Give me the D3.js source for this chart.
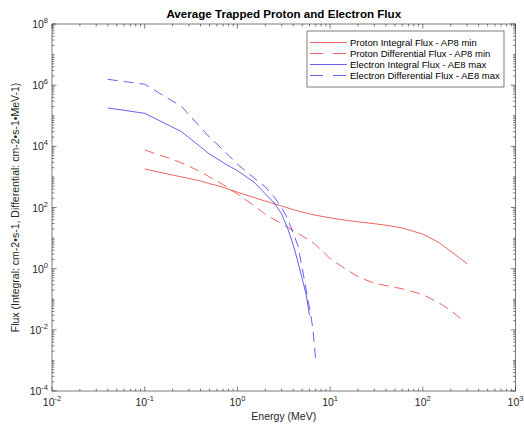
<!DOCTYPE html>
<html><head><meta charset="utf-8">
<script src="https://cdn.jsdelivr.net/npm/d3@7"></script>
<style>
body{margin:0;background:#fff}
svg{display:block;font-family:"Liberation Sans",Arial,Helvetica,sans-serif}
</style>
</head><body>
<svg id="chart" width="524" height="428"></svg>
<script>
// ---------- data ----------
const electronEnergy = [0.04, 0.1, 0.25, 0.5, 0.75, 1.0, 1.5, 2.0, 2.5, 3.0, 3.5, 4.0, 4.5, 5.0, 5.5, 6.0, 6.5, 7.0];
const electronIntegral = [1.8e5, 1.2e5, 3.0e4, 5.6e3, 2.6e3, 1.6e3, 6.9e2, 2.8e2, 1.4e2, 62, 20, 6.0, 1.66, 0.47, 0.15, 0.03];
const electronDifferential = [1.55e6, 1.07e6, 2.0e5, 2.0e4, 6.3e3, 2.6e3, 9.5e2, 4.7e2, 2.2e2, 98, 42, 14.5, 5.6, 1.05, 0.21, 0.05, 0.012, 0.001];
const protonEnergy = [0.1, 0.15, 0.2, 0.3, 0.4, 0.5, 0.6, 0.7, 1, 1.5, 2, 3, 4, 5, 6, 7, 10, 15, 20, 30, 40, 50, 60, 70, 100, 150, 200, 300];
const protonDiffEnergy = [0.1, 0.15, 0.2, 0.3, 0.4, 0.5, 0.6, 0.7, 1, 1.5, 2, 3, 4, 5, 6, 7, 10, 15, 20, 30, 40, 50, 60, 70, 100, 150, 200, 280];
const protonIntegral = [1820, 1380, 1150, 890, 740, 600, 525, 457, 316, 214, 162, 112, 85, 71, 62, 56, 46, 38, 34, 29.5, 26.3, 23.7, 21.4, 18.6, 13.5, 7.1, 3.7, 1.45];
const protonDifferential = [7600, 5000, 3800, 2240, 1480, 1000, 740, 560, 275, 117, 60, 29.5, 17.8, 11.7, 8.5, 6.0, 2.14, 0.93, 0.55, 0.33, 0.28, 0.245, 0.22, 0.195, 0.141, 0.076, 0.043, 0.019];
const seriesNames = ["Proton Integral Flux - AP8 min", "Proton Differential Flux - AP8 min", "Electron Integral Flux - AE8 max", "Electron Differential Flux - AE8 max"];
const xTickExponents = [-2, -1, 0, 1, 2, 3];
const yTickExponents = [-4, -2, 0, 2, 4, 6, 8];
const titleText = "Average Trapped Proton and Electron Flux";
const xLabelText = "Energy (MeV)";
const yLabelText = "Flux (Integral: cm-2\u2022s-1, Differential: cm-2\u2022s-1\u2022MeV-1)";

// ---------- layout ----------
const L = 52, R = 515.5, T = 24, B = 391;
const axisColor = "#262626";
const RED = "#ee3a3a", BLUE = "#3a3aee";
const PLOT_DASH = "10,6", LEGEND_DASH = "13,10";

const svg = d3.select("#chart");
const x = d3.scaleLog().domain([1e-2, 1e3]).range([L, R]);
const y = d3.scaleLog().domain([1e-4, 1e8]).range([B, T]);

// ---------- ticks ----------
function minorValues(lo, hi) {
  const out = [];
  for (let e = lo; e < hi; e++) for (let m = 1; m <= 9; m++) out.push(m * Math.pow(10, e));
  out.push(Math.pow(10, hi));
  return out;
}
const xMajor = xTickExponents.map(e => Math.pow(10, e));
const yMajor = yTickExponents.map(e => Math.pow(10, e));
const xMinor = minorValues(-2, 3).filter(v => !xMajor.some(m => Math.abs(m - v) / m < 1e-9));
const yMinor = minorValues(-4, 8).filter(v => !yMajor.some(m => Math.abs(m - v) / m < 1e-9));

const tickG = svg.append("g").attr("stroke", axisColor).attr("stroke-width", 0.6);
const MAJ = 4.6, MIN = 2.4;
function xTicks(vals, len) {
  vals.forEach(v => {
    tickG.append("line").attr("x1", x(v)).attr("x2", x(v)).attr("y1", B).attr("y2", B - len);
    tickG.append("line").attr("x1", x(v)).attr("x2", x(v)).attr("y1", T).attr("y2", T + len);
  });
}
function yTicks(vals, len) {
  vals.forEach(v => {
    tickG.append("line").attr("y1", y(v)).attr("y2", y(v)).attr("x1", L).attr("x2", L + len);
    tickG.append("line").attr("y1", y(v)).attr("y2", y(v)).attr("x1", R).attr("x2", R - len);
  });
}
xTicks(xMajor, MAJ); xTicks(xMinor, MIN);
yTicks(yMajor, MAJ); yTicks(yMinor, MIN);

// frame
svg.append("rect").attr("x", L).attr("y", T).attr("width", R - L).attr("height", B - T)
  .attr("fill", "none").attr("stroke", axisColor).attr("stroke-width", 0.6);

// tick labels
xTickExponents.forEach(e => {
  const t = svg.append("text").attr("x", x(Math.pow(10, e))).attr("y", B + 15)
    .attr("text-anchor", "middle").attr("font-size", 10.5).attr("fill", axisColor);
  t.append("tspan").text("10");
  t.append("tspan").attr("dy", -5).attr("font-size", 7.5).text(String(e));
});
yTickExponents.forEach(e => {
  const t = svg.append("text").attr("x", L - 4).attr("y", y(Math.pow(10, e)) + 4)
    .attr("text-anchor", "end").attr("font-size", 10.5).attr("fill", axisColor);
  t.append("tspan").text("10");
  t.append("tspan").attr("dy", -5).attr("font-size", 7.5).text(String(e));
});

// ---------- lines ----------
const line = d3.line().x(d => x(d[0])).y(d => y(d[1]));
const series = [
  {E: protonEnergy, F: protonIntegral, color: RED, dash: null},
  {E: protonDiffEnergy, F: protonDifferential, color: RED, dash: PLOT_DASH},
  {E: electronEnergy, F: electronIntegral, color: BLUE, dash: null},
  {E: electronEnergy, F: electronDifferential, color: BLUE, dash: PLOT_DASH}
];
series.forEach(s => {
  const pts = s.F.map((f, i) => [s.E[i], f]);
  svg.append("path").datum(pts).attr("d", line)
    .attr("fill", "none").attr("stroke", s.color).attr("stroke-width", 0.8)
    .attr("stroke-dasharray", s.dash);
});

// ---------- title & labels ----------
svg.append("text").attr("x", (L + R) / 2).attr("y", 18).attr("text-anchor", "middle")
  .attr("font-size", 11.6).attr("font-weight", "bold").attr("fill", "#000").text(titleText);
svg.append("text").attr("x", (L + R) / 2).attr("y", 420).attr("text-anchor", "middle")
  .attr("font-size", 10.5).attr("fill", axisColor).text(xLabelText);
svg.append("text").attr("transform", `translate(19,${(T + B) / 2}) rotate(-90)`)
  .attr("text-anchor", "middle").attr("font-size", 10.5).attr("fill", axisColor).text(yLabelText);

// ---------- legend ----------
const lg = svg.append("g");
lg.append("rect").attr("x", 307).attr("y", 31).attr("width", 197).attr("height", 56)
  .attr("fill", "#fff").attr("stroke", axisColor).attr("stroke-width", 0.6);
seriesNames.forEach((name, i) => {
  const yy = 42.5 + i * 11;
  lg.append("line").attr("x1", 310).attr("x2", 347).attr("y1", yy).attr("y2", yy)
    .attr("stroke", series[i].color).attr("stroke-width", 0.8)
    .attr("stroke-dasharray", series[i].dash ? LEGEND_DASH : null);
  lg.append("text").attr("x", 350).attr("y", yy + 3.4).attr("font-size", 9.5)
    .attr("fill", "#000").text(name);
});
</script>
</body></html>
